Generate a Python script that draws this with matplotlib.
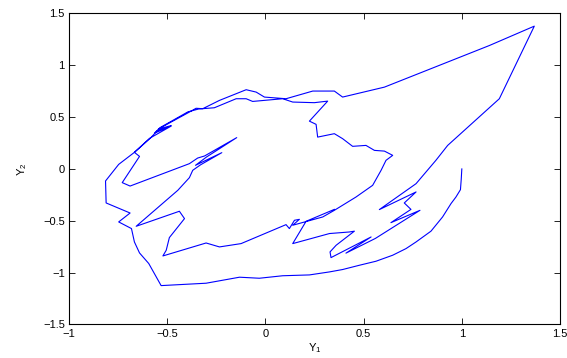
import matplotlib
matplotlib.use("Agg")
import matplotlib.pyplot as plt

# trajectory (Y1, Y2), starting at (1, 0)
y1_vals = [
    # outer bottom lobe and left side
    1.0, 0.997, 0.993, 0.97, 0.945, 0.902, 0.843, 0.767, 0.716, 0.648, 0.563,
    0.478, 0.393, 0.326, 0.224, 0.088, -0.031, -0.132, -0.302, -0.531,
    -0.594, -0.641, -0.667, -0.682, -0.747, -0.689, -0.811, -0.814, -0.747,
    -0.667,
    # first pass up the diagonal, lower arc, down the middle
    -0.59, -0.48, -0.565, -0.535, -0.395, -0.34, -0.26, -0.149, -0.098,
    -0.065, 0.088, 0.139, 0.249, 0.317, 0.224, 0.258, 0.266, 0.351, 0.393,
    0.444, 0.512, 0.555, 0.606, 0.648, 0.614, 0.589, 0.546, 0.461, 0.351,
    0.292, 0.139, 0.173, 0.148, 0.122, 0.105,
    -0.124, -0.234, -0.302, -0.522, -0.505, -0.489, -0.412, -0.438, -0.658,
    -0.446, -0.387, -0.37, -0.33, -0.222, -0.356, -0.30, -0.146, -0.31,
    -0.345, -0.387, -0.689, -0.729, -0.641, -0.667,
    # second pass: upper arc, peak, right side and zigzags
    -0.585, -0.55, -0.48, -0.545, -0.40, -0.353, -0.319, -0.234, -0.098,
    -0.047, -0.005, 0.105, 0.241, 0.351, 0.393, 0.478, 0.606, 1.14, 1.369,
    1.191, 0.928, 0.868, 0.767, 0.58, 0.767, 0.707, 0.741, 0.639, 0.787,
    0.56, 0.41, 0.538, 0.334, 0.329, 0.36, 0.453, 0.427, 0.326, 0.139,
    0.207, 0.351,
]
y2_vals = [
    0.0, -0.10, -0.20, -0.271, -0.334, -0.463, -0.60, -0.704, -0.768, -0.832,
    -0.89, -0.929, -0.97, -0.993, -1.022, -1.03, -1.054, -1.044, -1.102,
    -1.125, -0.912, -0.81, -0.704, -0.575, -0.511, -0.425, -0.328, -0.116,
    0.044, 0.16,
    0.295, 0.413, 0.345, 0.40, 0.55, 0.578, 0.59, 0.677, 0.677,
    0.651, 0.677, 0.645, 0.639, 0.654, 0.461, 0.43, 0.307, 0.34, 0.292,
    0.218, 0.227, 0.179, 0.172, 0.131, 0.083, -0.013, -0.158, -0.271, -0.399,
    -0.463, -0.543, -0.486, -0.495, -0.575, -0.537,
    -0.72, -0.752, -0.714, -0.839, -0.784, -0.662, -0.479, -0.408, -0.553,
    -0.206, -0.084, -0.013, 0.04, 0.157, 0.035, 0.115, 0.302, 0.125,
    0.105, 0.051, -0.165, -0.132, 0.121, 0.16,
    0.298, 0.37, 0.418, 0.385, 0.535, 0.585, 0.581, 0.661, 0.764,
    0.741, 0.693, 0.677, 0.751, 0.751, 0.693, 0.731, 0.789, 1.19, 1.377,
    0.677, 0.227, 0.083, -0.142, -0.392, -0.222, -0.328, -0.39, -0.518, -0.399,
    -0.67, -0.812, -0.656, -0.855, -0.80, -0.736, -0.60, -0.608, -0.623, -0.72,
    -0.505, -0.39,
]

x_ticks = [-1, -0.5, 0, 0.5, 1, 1.5]
y_ticks = [-1.5, -1, -0.5, 0, 0.5, 1, 1.5]

plt.rcParams["font.family"] = ["Liberation Sans", "DejaVu Sans"]

fig = plt.figure(figsize=(5.67, 3.58), dpi=100)
ax = fig.add_axes([0.1217, 0.0936, 0.866, 0.869])

ax.plot(y1_vals, y2_vals, color="#0000ff", linewidth=0.8)

ax.set_xlim(-1, 1.5)
ax.set_ylim(-1.5, 1.5)
ax.set_xticks(x_ticks)
ax.set_yticks(y_ticks)
ax.set_xticklabels([f"{t:g}".replace("-", "\u2212") for t in x_ticks])
ax.set_yticklabels([f"{t:g}".replace("-", "\u2212") for t in y_ticks])

# matlab look: ticks inside on all four sides
ax.tick_params(direction="in", top=True, right=True, length=4, width=0.6,
               labelsize=8, pad=3)
for spine in ax.spines.values():
    spine.set_linewidth(0.8)

ax.set_xlabel(r"$\mathregular{Y_1}$", fontsize=8, labelpad=2)
ax.set_ylabel(r"$\mathregular{Y_2}$", fontsize=8, labelpad=10)

fig.savefig("out.png", dpi=100)
